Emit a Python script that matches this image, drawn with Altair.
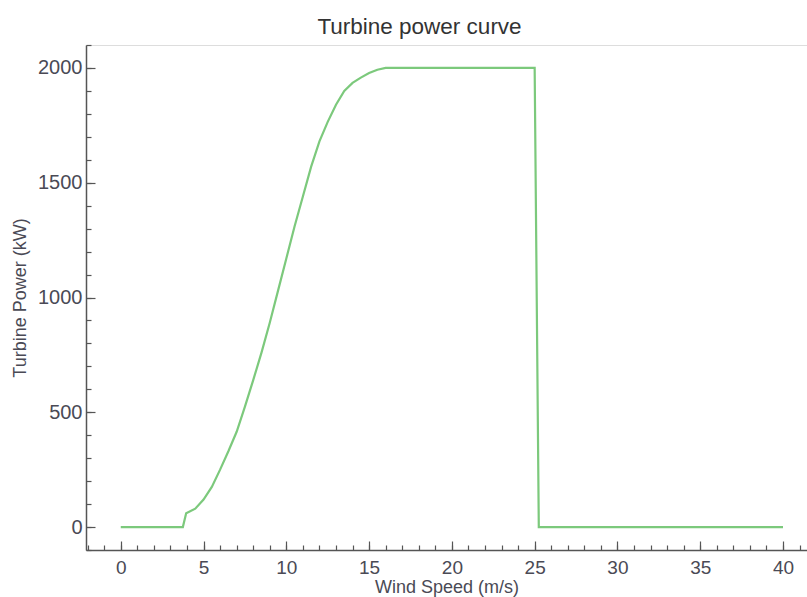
import altair as alt
import pandas as pd

# Wind speed (m/s) and turbine power (kW)
wind = [0, 3.75, 3.95, 4.5, 5.0, 5.5, 6.0, 6.5, 7.0, 7.5, 8.0, 8.5, 9.0, 9.5,
        10.0, 10.5, 11.0, 11.5, 12.0, 12.5, 13.0, 13.5, 14.0, 14.5, 15.0,
        15.5, 16.0, 25.0, 25.25, 40.0]
power = [0, 0, 60, 80, 120, 175, 250, 330, 415, 525, 640, 760, 890, 1030,
         1170, 1310, 1440, 1570, 1680, 1765, 1840, 1900, 1935, 1958, 1978,
         1992, 2000, 2000, 0, 0]

x_major = [0, 5, 10, 15, 20, 25, 30, 35, 40]
x_minor = list(range(-2, 42))
y_major = [0, 500, 1000, 1500, 2000]
y_minor = list(range(-100, 2101, 100))

df = pd.DataFrame({"wind": wind, "power": power})

FONT = "Liberation Sans"
AX_COL = "#555555"
LBL_COL = "#4a4a55"

xscale = alt.Scale(domain=[-2.1, 41.45], nice=False, zero=False)
yscale = alt.Scale(domain=[-100, 2100], nice=False, zero=False)

base = alt.Chart(df)

line = base.mark_line(color="#7cc97c", strokeWidth=2.2).encode(
    x=alt.X("wind:Q", scale=xscale,
            axis=alt.Axis(orient="bottom", values=x_major, ticks=False, grid=False,
                          format="d",
                          domainColor=AX_COL, domainWidth=1.5,
                          labelFont=FONT, labelFontSize=19, labelColor=LBL_COL,
                          labelPadding=8, title="Wind Speed (m/s)",
                          titleFont=FONT, titleFontSize=18, titleFontWeight="normal",
                          titleColor=LBL_COL, titlePadding=1)),
    y=alt.Y("power:Q", scale=yscale,
            axis=alt.Axis(orient="left", values=y_major, ticks=False, grid=False,
                          format="d",
                          domainColor=AX_COL, domainWidth=1.5,
                          labelFont=FONT, labelFontSize=20, labelColor=LBL_COL,
                          labelPadding=4, title="Turbine Power (kW)",
                          titleFont=FONT, titleFontSize=18, titleFontWeight="normal",
                          titleColor=LBL_COL, titlePadding=8)),
)


def tick_layer(xv, yv, size):
    return base.mark_line(opacity=0).encode(
        x=alt.X("wind:Q", scale=xscale,
                axis=alt.Axis(orient="bottom", values=xv, domain=False, labels=False,
                              grid=False, title=None, tickSize=size, offset=-size,
                              tickColor=AX_COL, tickWidth=1.2)),
        y=alt.Y("power:Q", scale=yscale,
                axis=alt.Axis(orient="left", values=yv, domain=False, labels=False,
                              grid=False, title=None, tickSize=size, offset=-size,
                              tickColor=AX_COL, tickWidth=1.2)),
    )


major = tick_layer(x_major, y_major, 9)
minor = tick_layer(x_minor, y_minor, 5)

chart = alt.layer(line, major, minor).resolve_axis(
    x="independent", y="independent"
).properties(
    width=721,
    height=505,
    autosize=alt.AutoSizeParams(type="none"),
    padding={"left": 86, "top": 45, "right": 0, "bottom": 47},
    title=alt.TitleParams("Turbine power curve", font=FONT, fontSize=22.5,
                          fontWeight="normal", color="#333333", offset=6,
                          dx=-27, anchor="middle"),
).configure_view(stroke=AX_COL, strokeWidth=1.8).configure(background="white")

chart.save("out.html", embed_options={"renderer": "svg", "actions": False})
